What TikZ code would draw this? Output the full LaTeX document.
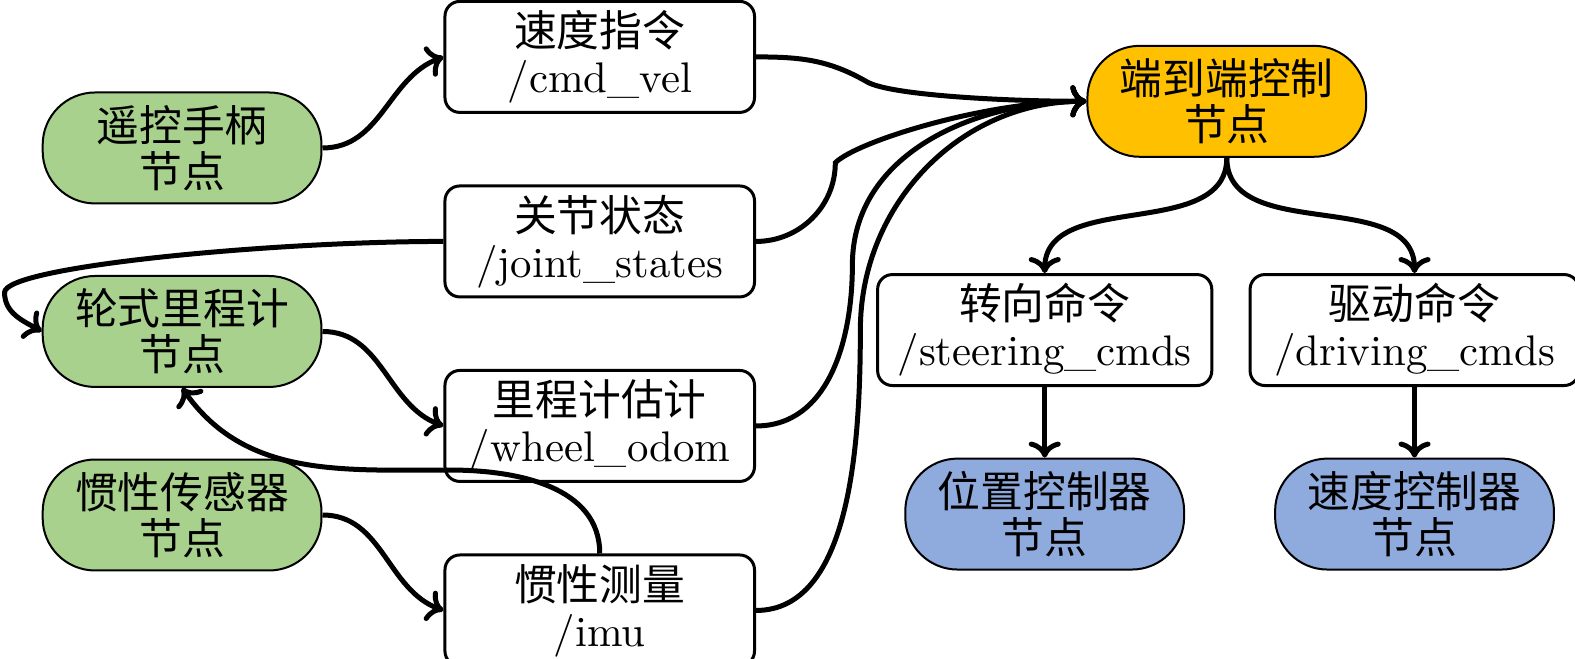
\documentclass[tikz,border=0pt]{standalone}
\usepackage{fontspec}
\newfontfamily\cjk{Noto Sans CJK SC}
\usepackage{xcolor}
\usetikzlibrary{arrows.meta, positioning}
\definecolor{nodefill}{HTML}{A9D18E}
\definecolor{ctrlfill}{HTML}{FFC000}
\definecolor{actfill}{HTML}{8FAADC}
\tikzset{
  blk/.style={rectangle, align=center, font=\fontsize{10.7}{11.5}\selectfont, inner xsep=5pt, inner ysep=2pt, minimum height=0.975cm},
  topic/.style={blk, draw=black, fill=white, rounded corners=0.13cm, line width=0.75pt, minimum width=2.72cm},
  pill/.style={blk, draw=black, rounded corners=0.46cm, line width=0.5pt, minimum width=2.45cm},
  sensor/.style={pill, fill=nodefill},
  ctrl/.style={pill, fill=ctrlfill},
  act/.style={pill, fill=actfill},
  arr/.style={->, >={To[length=4pt,width=8pt]}, line width=1.25pt, draw=black},
}

\begin{document}
\begin{tikzpicture}[node distance=0.62cm and 0.31cm]
  \useasboundingbox (0,0) rectangle (13.84,-5.79);

  % ROS nodes on the left
  \node[sensor] (joy) at (1.60,-1.30) {{\cjk 遥控手柄}\\{\cjk 节点}};
  \node[sensor, below=of joy] (odo) {{\cjk 轮式里程计}\\{\cjk 节点}};
  \node[sensor, below=of odo] (ins) {{\cjk 惯性传感器}\\{\cjk 节点}};

  % topics
  \node[topic] (tvel) at (5.27,-0.50) {{\cjk 速度指令}\\/cmd\_vel};
  \node[topic, below=of tvel] (tjs) {{\cjk 关节状态}\\/joint\_states};
  \node[topic, below=of tjs] (todo) {{\cjk 里程计估计}\\/wheel\_odom};
  \node[topic, below=of todo] (timu) {{\cjk 惯性测量}\\/imu};

  % controller side
  \node[ctrl] (ctrl) at (10.78,-0.89) {{\cjk 端到端控制}\\{\cjk 节点}};
  \node[topic] (tstr) at (9.18,-2.90) {{\cjk 转向命令}\\/steering\_cmds};
  \node[topic, minimum width=2.89cm, right=of tstr] (tdrv) {{\cjk 驱动命令}\\/driving\_cmds};
  \node[act, below=of tstr] (pctl) {{\cjk 位置控制器}\\{\cjk 节点}};
  \node[act, below=of tdrv] (vctl) {{\cjk 速度控制器}\\{\cjk 节点}};

  \coordinate (kvel) at (7.62,-0.72);
  \coordinate (kjs) at (7.34,-1.43);
  \coordinate (kodo) at (7.49,-2.33);
  \coordinate (kimu) at (7.56,-2.90);
  \coordinate (kloop) at (0.04,-2.57);
  \coordinate (kback) at (3.95,-4.13);

  \draw[arr] (joy.east) to[out=0,in=200] (tvel.west);
  \draw[arr] (odo.east) to[out=0,in=160] (todo.west);
  \draw[arr] (ins.east) to[out=0,in=160] (timu.west);
  \draw[arr] (tjs.west) to[out=180,in=90,in looseness=0.15] (kloop) to[out=-90,in=150] (odo.west);
  \draw[arr] (timu.north) to[out=90,in=0] (kback) to[out=180,in=-55] (odo.south);

  \draw[arr] (tvel.east) to[out=0,in=150] (kvel) to[out=-30,in=180,out looseness=0.3] (ctrl.west);
  \draw[arr] (tjs.east) to[out=0,in=-90] (kjs) to[out=45,in=180,out looseness=0.3] (ctrl.west);
  \draw[arr] (todo.east) to[out=0,in=-90] (kodo) to[out=90,in=180] (ctrl.west);
  \draw[arr] (timu.east) to[out=0,in=-90,out looseness=0.8] (kimu) to[out=90,in=180] (ctrl.west);

  \draw[arr] (ctrl.south) to[out=-90,in=90] (tstr.north);
  \draw[arr] (ctrl.south) to[out=-90,in=90] (tdrv.north);
  \draw[arr] (tstr) -- (pctl);
  \draw[arr] (tdrv) -- (vctl);
\end{tikzpicture}
\end{document}
